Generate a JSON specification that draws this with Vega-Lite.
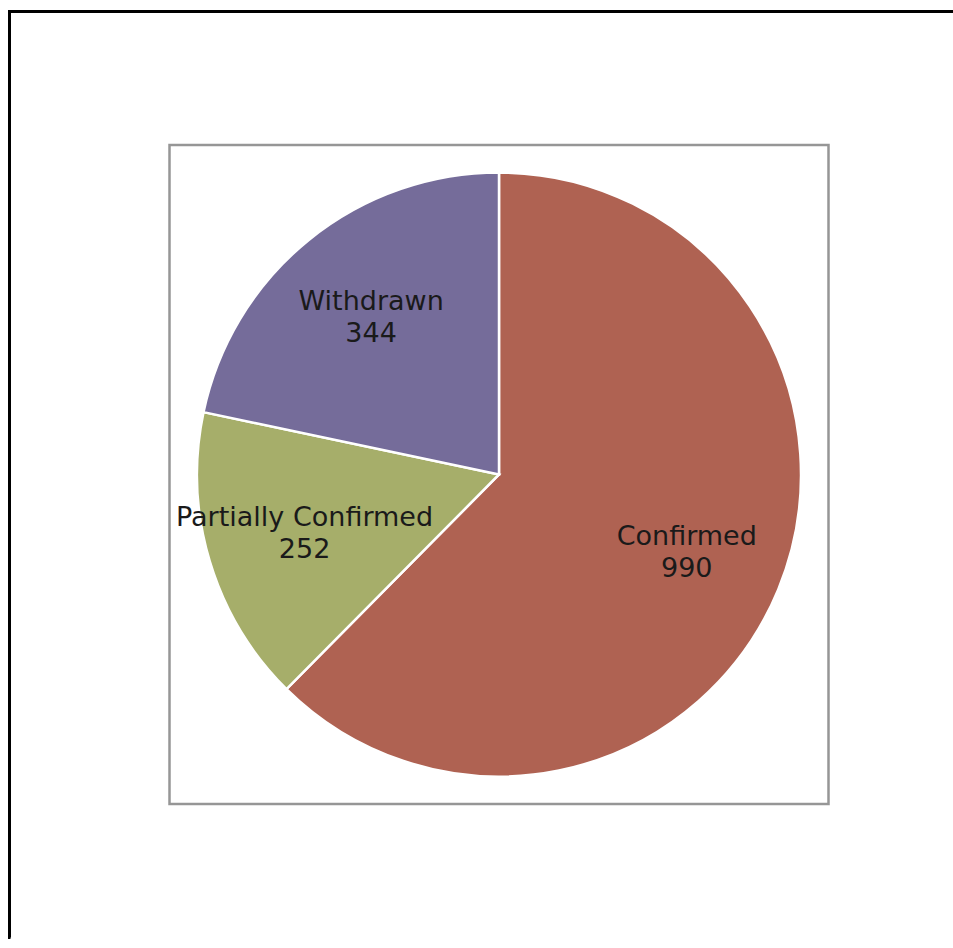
{
  "$schema": "https://vega.github.io/schema/vega-lite/v6.json",
  "autosize": {"type": "fit", "contains": "padding"},
  "width": 953,
  "height": 948,
  "padding": {"left": 7.5, "top": 9.5, "right": -37.5, "bottom": 8.5},
  "background": "white",
  "config": {"view": {"stroke": null}},
  "data": {
    "values": [
      {"status": "Confirmed", "count": 990, "ord": 1},
      {"status": "Partially Confirmed", "count": 252, "ord": 2},
      {"status": "Withdrawn", "count": 344, "ord": 3}
    ]
  },
  "layer": [
    {
      "data": {"values": [{"frame": "outer"}]},
      "mark": {"type": "rect", "fill": null, "fillOpacity": 0, "stroke": "#000000", "strokeWidth": 3, "strokeDash": [1913, 970, 960]},
      "encoding": {}
    },
    {
      "data": {"values": [{"frame": "box"}]},
      "mark": {"type": "point", "shape": "square", "size": 434281, "filled": false, "stroke": "#969696", "strokeWidth": 2.5, "opacity": 1},
      "encoding": {}
    },
    {
      "mark": {"type": "arc", "outerRadius": 302, "stroke": "#ffffff", "strokeWidth": 2.5},
      "encoding": {
        "theta": {"field": "count", "type": "quantitative", "stack": true},
        "order": {"field": "ord", "type": "quantitative"},
        "color": {
          "field": "status",
          "type": "nominal",
          "scale": {"domain": ["Confirmed", "Partially Confirmed", "Withdrawn"], "range": ["#AF6252", "#A6AE6A", "#756C9A"]},
          "legend": null
        }
      }
    },
    {
      "transform": [{"calculate": "datum.status + '\\n' + datum.count", "as": "label"}],
      "mark": {"type": "text", "radius": 203, "dy": -15, "lineBreak": "\n", "font": "DejaVu Sans", "fontSize": 27, "lineHeight": 32, "color": "#1a1a1a", "align": "center", "baseline": "middle"},
      "encoding": {
        "theta": {"field": "count", "type": "quantitative", "stack": true},
        "order": {"field": "ord", "type": "quantitative"},
        "text": {"field": "label", "type": "nominal"}
      }
    }
  ]
}
